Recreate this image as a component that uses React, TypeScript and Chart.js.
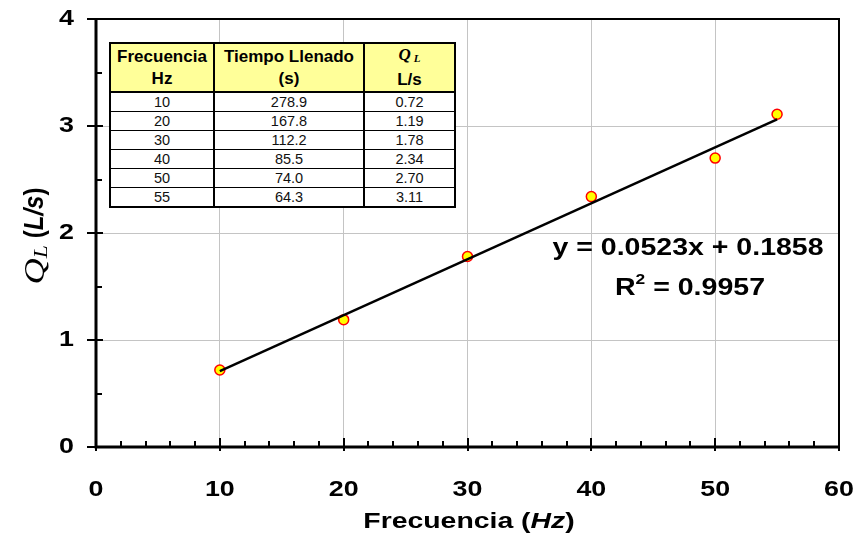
import React, { useEffect, useRef } from "react";
import { Chart, registerables } from "chart.js";

Chart.register(...registerables);

// ---- data ----
const freqHz = [10, 20, 30, 40, 50, 55];
const fillTime = ["278.9", "167.8", "112.2", "85.5", "74.0", "64.3"];
const flowLs = [0.72, 1.19, 1.78, 2.34, 2.7, 3.11];
const trendX = [10, 55];
const trendY = [0.709, 3.062];
const eqText = "y = 0.0523x + 0.1858";
const r2Text = " = 0.9957";
const xTicks = [0, 10, 20, 30, 40, 50, 60];
const yTicks = [0, 1, 2, 3, 4];

const SANS = "'Liberation Sans', Arial, sans-serif";
const SERIF = "'Liberation Serif', 'Times New Roman', serif";

type Run = { text: string; font: string; dy?: number; sx?: number };

function drawRuns(ctx: CanvasRenderingContext2D, runs: Run[], x: number, y: number, align: string, sx: number) {
  let total = 0;
  const widths = runs.map((r) => {
    ctx.font = r.font;
    const w = ctx.measureText(r.text).width * (r.sx ?? sx);
    total += w;
    return w;
  });
  let cx = align === "center" ? x - total / 2 : align === "right" ? x - total : x;
  runs.forEach((r, i) => {
    ctx.save();
    ctx.translate(cx, y + (r.dy || 0));
    ctx.scale(r.sx ?? sx, 1);
    ctx.font = r.font;
    ctx.textAlign = "left";
    ctx.textBaseline = "middle";
    ctx.fillStyle = "#000";
    ctx.fillText(r.text, 0, 0);
    ctx.restore();
    cx += widths[i];
  });
}

const decoPlugin = {
  id: "deco",
  afterDraw(chart: any) {
    const ctx: CanvasRenderingContext2D = chart.ctx;
    const { left, right, top, bottom } = chart.chartArea;
    const xs = chart.scales.x;
    const ys = chart.scales.y;
    ctx.save();
    // frame
    ctx.strokeStyle = "#000";
    ctx.lineWidth = 2;
    ctx.strokeRect(left, top, right - left, bottom - top);
    ctx.lineWidth = 3;
    ctx.beginPath();
    ctx.moveTo(left, top);
    ctx.lineTo(left, bottom);
    ctx.lineTo(right, bottom);
    ctx.stroke();
    // ticks
    ctx.lineWidth = 2;
    ctx.beginPath();
    for (let v = 0; v <= 60; v += 2) {
      const px = Math.round(xs.getPixelForValue(v));
      const major = v % 10 === 0;
      ctx.moveTo(px, bottom - (major ? 9 : 6));
      ctx.lineTo(px, bottom + (major ? 4 : 0));
    }
    for (let v = 0; v <= 4.0001; v += 0.5) {
      const py = Math.round(ys.getPixelForValue(v));
      const major = Math.abs(v - Math.round(v)) < 1e-6;
      ctx.moveTo(left - (major ? 9 : 0), py);
      ctx.lineTo(left + (major ? 7 : 6), py);
    }
    ctx.stroke();
    // tick labels
    const tickFont = `bold 22px ${SANS}`;
    xTicks.forEach((v) => {
      drawRuns(ctx, [{ text: String(v), font: tickFont }], xs.getPixelForValue(v), 490, "center", 1.22);
    });
    yTicks.forEach((v) => {
      drawRuns(ctx, [{ text: String(v), font: tickFont }], 74, ys.getPixelForValue(v), "right", 1.22);
    });
    // x title
    drawRuns(
      ctx,
      [
        { text: "Frecuencia (", font: `bold 22px ${SANS}` },
        { text: "Hz", font: `italic bold 22px ${SANS}` },
        { text: ")", font: `bold 22px ${SANS}` },
      ],
      469,
      522,
      "center",
      1.29
    );
    // y title (rotated)
    ctx.save();
    ctx.translate(36, 236);
    ctx.rotate(-Math.PI / 2);
    ctx.scale(1, 1.12);
    drawRuns(
      ctx,
      [
        { text: "Q", font: `italic 26px ${SERIF}`, sx: 1.4 },
        { text: "L", font: `italic 17px ${SERIF}`, dy: 5, sx: 1.4 },
        { text: " (", font: `bold 24px ${SANS}` },
        { text: "L/s", font: `italic bold 24px ${SANS}` },
        { text: ")", font: `bold 24px ${SANS}` },
      ],
      0,
      0,
      "center",
      1
    );
    ctx.restore();
    // equation
    drawRuns(ctx, [{ text: eqText, font: `bold 23px ${SANS}` }], 688, 249, "center", 1.24);
    drawRuns(
      ctx,
      [
        { text: "R", font: `bold 23px ${SANS}` },
        { text: "2", font: `bold 14px ${SANS}`, dy: -9 },
        { text: r2Text, font: `bold 23px ${SANS}` },
      ],
      690,
      289,
      "center",
      1.24
    );
    ctx.restore();
  },
};

function DataTable() {
  const cell: React.CSSProperties = {
    border: "1px solid #000",
    borderLeft: "2px solid #000",
    borderRight: "2px solid #000",
    padding: 0,
    textAlign: "center",
    fontSize: 14.5,
    lineHeight: "17px",
    height: 18,
    color: "#111",
  };
  const head: React.CSSProperties = {
    ...cell,
    background: "#FFFF99",
    fontWeight: "bold",
    fontSize: 17,
    lineHeight: "22px",
    height: 44,
    borderBottom: "2px solid #000",
    color: "#000",
  };
  return (
    <table
      style={{
        position: "absolute",
        left: 109,
        top: 42,
        width: 345,
        borderCollapse: "collapse",
        tableLayout: "fixed",
        border: "2px solid #000",
        background: "#fff",
        fontFamily: SANS,
      }}
    >
      <colgroup>
        <col style={{ width: 104 }} />
        <col style={{ width: 150 }} />
        <col style={{ width: 91 }} />
      </colgroup>
      <tbody>
        <tr>
          <td style={head}>
            Frecuencia
            <br />
            Hz
          </td>
          <td style={head}>
            Tiempo Llenado
            <br />
            (s)
          </td>
          <td style={head}>
            <span style={{ fontFamily: SERIF, fontStyle: "italic" }}>
              Q<sub style={{ fontSize: 11, verticalAlign: "-2px" }}> L</sub>
            </span>
            <br />
            L/s
          </td>
        </tr>
        {freqHz.map((f, i) => (
          <tr key={f}>
            <td style={cell}>{f}</td>
            <td style={cell}>{fillTime[i]}</td>
            <td style={cell}>{flowLs[i].toFixed(2)}</td>
          </tr>
        ))}
      </tbody>
    </table>
  );
}

export default function App() {
  const ref = useRef<HTMLCanvasElement>(null);
  useEffect(() => {
    if (!ref.current) return;
    const chart = new Chart(ref.current, {
      type: "scatter",
      data: {
        datasets: [
          {
            type: "line",
            data: trendX.map((x, i) => ({ x, y: trendY[i] })),
            borderColor: "#000",
            borderWidth: 2.5,
            pointRadius: 0,
            fill: false,
          } as any,
          {
            data: freqHz.map((x, i) => ({ x, y: flowLs[i] })),
            pointRadius: 5,
            pointBackgroundColor: "#FFFF00",
            pointBorderColor: "#FF0000",
            pointBorderWidth: 1.5,
            showLine: false,
          },
        ],
      },
      options: {
        responsive: false,
        animation: false,
        layout: { padding: { top: 19, right: 19, left: 0, bottom: 0 } },
        plugins: { legend: { display: false }, tooltip: { enabled: false } },
        scales: {
          x: {
            type: "linear",
            min: 0,
            max: 60,
            ticks: { stepSize: 10, display: false },
            grid: { color: "#c4c4c4", lineWidth: 1, drawTicks: false },
            border: { display: false },
            afterFit: (s: any) => {
              s.height = 99;
            },
          },
          y: {
            type: "linear",
            min: 0,
            max: 4,
            ticks: { stepSize: 1, display: false },
            grid: { color: "#c4c4c4", lineWidth: 1, drawTicks: false },
            border: { display: false },
            afterFit: (s: any) => {
              s.width = 96;
            },
          },
        },
      },
      plugins: [decoPlugin],
    });
    return () => chart.destroy();
  }, []);
  return (
    <div style={{ position: "absolute", left: 0, top: 0, width: 858, height: 546, background: "#fff" }}>
      <canvas ref={ref} width={858} height={546} style={{ display: "block" }} />
      <DataTable />
    </div>
  );
}
